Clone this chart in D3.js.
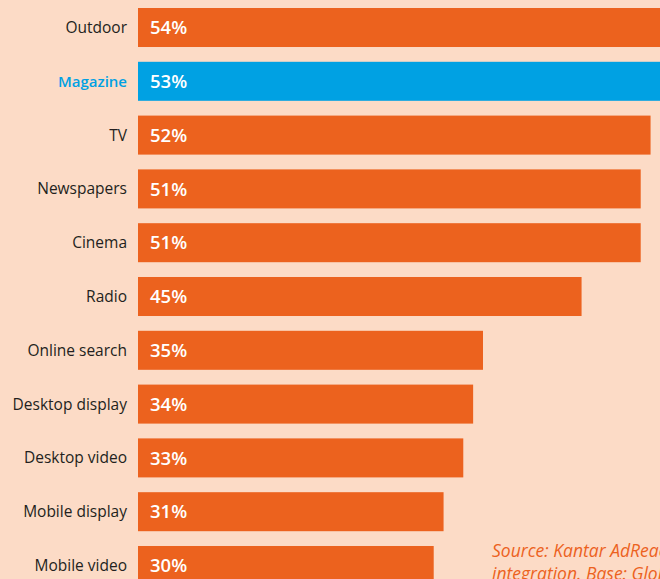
<!DOCTYPE html>
<html>
<head>
<meta charset="utf-8">
<script src="https://cdn.jsdelivr.net/npm/d3@7"></script>
<style>
  html, body { margin: 0; padding: 0; background: #FCDBC6; overflow: hidden; }
  svg { display: block; }
</style>
</head>
<body>
<svg id="chart" width="660" height="579"></svg>
<script>
// Share of respondents with a positive attitude to advertising, by channel
const categories = ["Outdoor", "Magazine", "TV", "Newspapers", "Cinema", "Radio",
  "Online search", "Desktop display", "Desktop video", "Mobile display", "Mobile video"];
const values = [54, 53, 52, 51, 51, 45, 35, 34, 33, 31, 30];
const highlight = "Magazine";
const sourceLines = ["Source: Kantar AdReaction 2018, media",
                     "integration. Base: Global respondents"];

const W = 660, H = 579;
const svg = d3.select("#chart");
svg.append("rect").attr("width", W).attr("height", H).attr("fill", "#FCDBC6");

const x = d3.scaleLinear().domain([0, 100]).range([138, 138 + 985.7]);
const y = d3.scaleBand().domain(categories).range([8, 8 + 10 * 53.8 + 39])
  .paddingInner(0.275).paddingOuter(0);

const orange = "#EC621E", blue = "#00A1E3";

const rows = svg.append("g").selectAll("g")
  .data(categories.map((c, i) => ({ c, v: values[i] })))
  .join("g");

rows.append("rect")
  .attr("x", x(0))
  .attr("y", d => y(d.c))
  .attr("width", d => x(d.v) - x(0))
  .attr("height", y.bandwidth())
  .attr("fill", d => d.c === highlight ? blue : orange);

rows.append("text")
  .attr("x", x(0) + 12)
  .attr("y", d => y(d.c) + y.bandwidth() / 2)
  .attr("dy", "0.36em")
  .attr("fill", "#fff")
  .attr("font-family", "'Open Sans', sans-serif")
  .attr("font-size", 18.5)
  .attr("font-weight", 600)
  .text(d => d.v + "%");

rows.append("text")
  .attr("x", 127)
  .attr("y", d => y(d.c) + y.bandwidth() / 2)
  .attr("dy", "0.36em")
  .attr("text-anchor", "end")
  .attr("fill", d => d.c === highlight ? blue : "#231F20")
  .attr("font-family", "'Open Sans', sans-serif")
  .attr("font-size", d => d.c === highlight ? 15 : 15.5)
  .attr("font-weight", d => d.c === highlight ? 600 : 400)
  .text(d => d.c);

svg.append("g").selectAll("text")
  .data(sourceLines)
  .join("text")
  .attr("x", 492)
  .attr("y", (d, i) => 557 + i * 23)
  .attr("fill", orange)
  .attr("font-family", "'Open Sans', sans-serif")
  .attr("font-style", "italic")
  .attr("font-size", 17.5)
  .text(d => d);
</script>
</body>
</html>
